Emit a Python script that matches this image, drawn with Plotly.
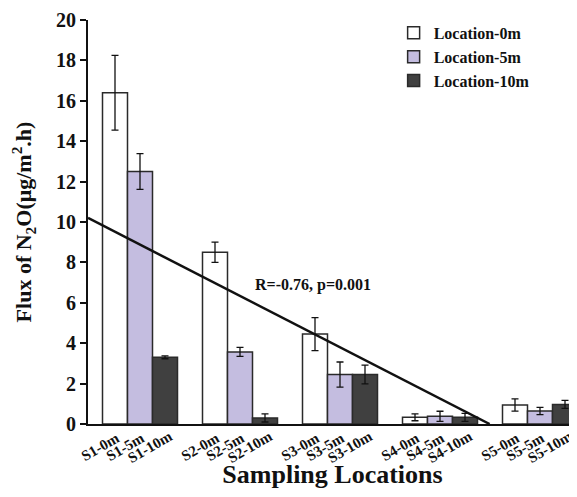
import plotly.graph_objects as go

# ---- data ----
sites = ["S1", "S2", "S3", "S4", "S5"]
depths = ["0m", "5m", "10m"]
series_names = ["Location-0m", "Location-5m", "Location-10m"]
flux_0m = [16.4, 8.5, 4.45, 0.33, 0.94]
flux_5m = [12.5, 3.57, 2.45, 0.38, 0.64]
flux_10m = [3.3, 0.3, 2.45, 0.33, 0.97]
err_0m = [1.85, 0.5, 0.82, 0.17, 0.3]
err_5m = [0.88, 0.22, 0.62, 0.25, 0.18]
err_10m = [0.07, 0.2, 0.46, 0.2, 0.2]
trend_intercept = 11.42
trend_slope = -2.54
annotation_text = "R=-0.76, p=0.001"
x_title = "Sampling Locations"
y_title = "Flux of N<sub>2</sub>O(μg/m<sup>2</sup>.h)"
y_ticks = [0, 2, 4, 6, 8, 10, 12, 14, 16, 18, 20]

FONT = "Liberation Serif"
colors = ["#ffffff", "#c4bde0", "#404040"]
values = [flux_0m, flux_5m, flux_10m]
errors = [err_0m, err_5m, err_10m]
xpos = [i + 1 for i in range(len(sites))]

fig = go.Figure()
for name, vals, errs, col in zip(series_names, values, errors, colors):
    fig.add_trace(go.Bar(
        x=xpos, y=vals, name=name,
        marker=dict(color=col, line=dict(color="#2a2a2a", width=1.5)),
        error_y=dict(type="data", array=errs, color="#111111", thickness=1.3, width=3.5),
    ))

# regression line
x_start = 0.48
x_end = -trend_intercept / trend_slope
fig.add_trace(go.Scatter(
    x=[x_start, x_end],
    y=[trend_intercept + trend_slope * x_start, trend_intercept + trend_slope * x_end],
    mode="lines", line=dict(color="#111111", width=2.5), showlegend=False,
))

# rotated per-bar category labels
annotations = []
for gi, s in enumerate(sites):
    for k, d in enumerate(depths):
        annotations.append(dict(
            x=xpos[gi] + (k - 1) * 0.25 - 0.15, y=-0.058,
            xref="x", yref="paper", text="%s-%s" % (s, d),
            showarrow=False, textangle=-30, xanchor="center", yanchor="middle",
            font=dict(family=FONT, size=15, color="#111111", weight="bold"),
        ))
annotations.append(dict(
    x=2.73, y=6.9, xref="x", yref="y", text=annotation_text,
    showarrow=False, font=dict(family=FONT, size=16, color="#111111", weight="bold"),
))

fig.update_layout(
    width=569, height=481,
    margin=dict(l=80, r=0, t=12, b=65),
    paper_bgcolor="white", plot_bgcolor="white",
    barmode="group", bargap=0.25, bargroupgap=0,
    font=dict(family=FONT, color="#111111"),
    annotations=annotations,
    legend=dict(
        x=0.625, y=1.01, xanchor="left", yanchor="top",
        font=dict(family=FONT, size=16, color="#111111", weight="bold"),
        bgcolor="rgba(0,0,0,0)", tracegroupgap=2,
    ),
    xaxis=dict(
        range=[0.48, 5.37], showticklabels=False, ticks="",
        showline=True, linecolor="#111111", linewidth=2, showgrid=False, zeroline=False,
        title=dict(text=x_title, font=dict(family=FONT, size=26, weight="bold"), standoff=47),
    ),
    yaxis=dict(
        range=[0, 20], tickvals=y_ticks, ticks="outside", ticklen=6, tickwidth=2,
        tickcolor="#111111", showline=True, linecolor="#111111", linewidth=2,
        showgrid=False, zeroline=False,
        tickfont=dict(family=FONT, size=20, color="#111111", weight="bold"),
        title=dict(text=y_title, font=dict(family=FONT, size=22, weight="bold"), standoff=18),
    ),
)

fig.write_html("out.html")
